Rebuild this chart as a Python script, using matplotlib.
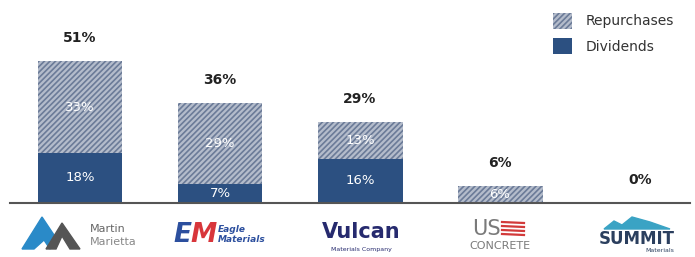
import numpy as np
import matplotlib.pyplot as plt
from matplotlib.patches import Patch, Polygon
from matplotlib.lines import Line2D
import matplotlib as mpl

companies = ['Martin Marietta', 'Eagle Materials', 'Vulcan', 'US Concrete', 'Summit Materials']
dividends = [18, 7, 16, 0, 0]
repurchases = [33, 29, 13, 6, 0]
totals = [51, 36, 29, 6, 0]

div_color = '#2c5081'
rep_face = '#b4bccb'
rep_hatch = '#6b7b98'
mpl.rcParams['hatch.color'] = rep_hatch
mpl.rcParams['hatch.linewidth'] = 1.2

W, H = 695, 257
fig = plt.figure(figsize=(6.95, 2.57), dpi=100)
ax = fig.add_axes([10 / W, 1 - 203 / H, 680 / W, 203 / H])


def fx(px):
    return px / W


def fy(py):
    return 1 - py / H


x = np.arange(len(companies))
w = 0.607
ax.bar(x, dividends, w, color=div_color, linewidth=0)
ax.bar(x, repurchases, w, bottom=dividends, facecolor=rep_face, hatch='//////',
       edgecolor=rep_hatch, linewidth=0)

for i in range(len(companies)):
    if dividends[i] > 0:
        ax.text(x[i], dividends[i] / 2, f'{dividends[i]}%', ha='center', va='center',
                color='white', fontsize=9.5)
    if repurchases[i] > 0:
        ax.text(x[i], dividends[i] + repurchases[i] / 2, f'{repurchases[i]}%', ha='center',
                va='center', color='white', fontsize=9.5)
    ax.text(x[i], totals[i] + 8.3, f'{totals[i]}%', ha='center', va='center',
            color='#222222', fontsize=10, fontweight='bold')

ax.set_xlim(-0.5, 4.357)
ax.set_ylim(0, 203 / 2.78)
for s in ['top', 'right', 'left']:
    ax.spines[s].set_visible(False)
ax.spines['bottom'].set_color('#555555')
ax.spines['bottom'].set_linewidth(1.5)
ax.set_xticks([])
ax.set_yticks([])

handles = [Patch(facecolor=rep_face, hatch='//////', edgecolor=rep_hatch, linewidth=0, label='Repurchases'),
           Patch(facecolor=div_color, linewidth=0, label='Dividends')]
fig.legend(handles=handles, loc='upper left', bbox_to_anchor=(540 / W, 1.0), frameon=False,
           fontsize=10, handlelength=1.4, handleheight=1.4, labelspacing=0.7,
           labelcolor='#333333', handletextpad=1.0)

# --- company "logos" below the axis ---
# Martin Marietta: two peaks
fig.add_artist(Polygon([(fx(22), fy(249)), (fx(42), fy(217)), (fx(56), fy(238)), (fx(50), fy(249)),
                        (fx(44), fy(240)), (fx(34), fy(249))], closed=True, color='#2a8ac8', transform=fig.transFigure))
fig.add_artist(Polygon([(fx(46), fy(249)), (fx(62), fy(223)), (fx(80), fy(249)), (fx(70), fy(249)),
                        (fx(62), fy(236)), (fx(56), fy(249))], closed=True, color='#555555', transform=fig.transFigure))
fig.text(fx(90), fy(229), 'Martin', color='#666666', fontsize=8, ha='left', va='center')
fig.text(fx(90), fy(242), 'Marietta', color='#888888', fontsize=8, ha='left', va='center')

# Eagle Materials
fig.text(fx(182), fy(235), 'E', color='#2c4f9e', fontsize=19, fontweight='bold', style='italic', ha='center', va='center')
fig.text(fx(204), fy(235), 'M', color='#d8363b', fontsize=19, fontweight='bold', style='italic', ha='center', va='center')
fig.text(fx(218), fy(230), 'Eagle', color='#2c4f9e', fontsize=6.5, fontweight='bold', style='italic', ha='left', va='center')
fig.text(fx(218), fy(240), 'Materials', color='#2c4f9e', fontsize=6.5, fontweight='bold', style='italic', ha='left', va='center')

# Vulcan
fig.text(fx(361), fy(232), 'Vulcan', color='#262a6e', fontsize=15, fontweight='bold', ha='center', va='center',
         family=['DejaVu Sans Condensed', 'DejaVu Sans'])
fig.text(fx(361), fy(249), 'Materials Company', color='#262a6e', fontsize=4.5, ha='center', va='center')

# US Concrete
fig.text(fx(486), fy(229), 'US', color='#7a7a7a', fontsize=15, ha='center', va='center',
         family=['DejaVu Sans Condensed', 'DejaVu Sans'])
for k in range(4):
    yy = 222 + 4 * k
    fig.add_artist(Line2D([fx(502), fx(524)], [fy(yy), fy(yy + 1)], color='#d23a3a', lw=1.6,
                          transform=fig.transFigure))
fig.text(fx(500), fy(246), 'CONCRETE', color='#7a7a7a', fontsize=8, ha='center', va='center',
         family=['DejaVu Sans Condensed', 'DejaVu Sans'])

# Summit Materials
fig.add_artist(Polygon([(fx(604), fy(229)), (fx(614), fy(221)), (fx(622), fy(225)), (fx(632), fy(217)),
                        (fx(650), fy(222)), (fx(670), fy(229))], closed=True, color='#3aa3c4',
                       transform=fig.transFigure))
fig.text(fx(637), fy(239), 'SUMMIT', color='#2b3f5e', fontsize=12, fontweight='bold', ha='center', va='center')
fig.text(fx(660), fy(251), 'Materials', color='#2b3f5e', fontsize=4.5, ha='center', va='center')

fig.savefig('out.png', dpi=100)
